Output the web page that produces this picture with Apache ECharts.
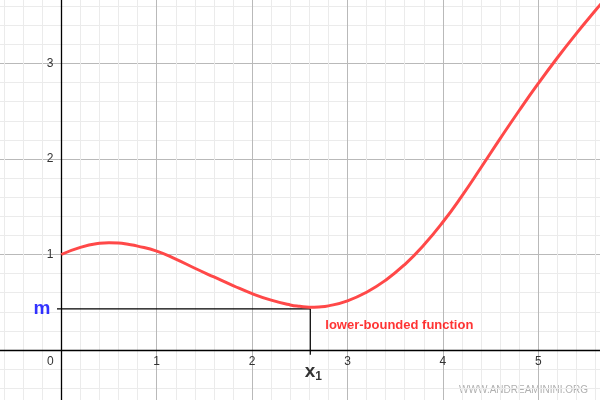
<!DOCTYPE html>
<html>
<head>
<meta charset="utf-8">
<script src="https://cdn.jsdelivr.net/npm/echarts@6/dist/echarts.min.js"></script>
<style>
  html, body { margin: 0; padding: 0; background: #fff; }
  #chart { width: 600px; height: 400px; }
</style>
</head>
<body>
<div id="chart"></div>
<script>
// ---- data ----
const curveX = [0, 0.2, 0.4, 0.5, 0.6, 0.7, 0.8, 1.0, 1.2, 1.4, 1.6, 1.8, 2.0, 2.2, 2.4, 2.5, 2.6, 2.7, 2.8, 3.0, 3.2, 3.4, 3.6, 3.8, 4.0, 4.2, 4.4, 4.6, 4.8, 5.0, 5.2, 5.4, 5.6, 5.7];
const curveY = [1.0, 1.075, 1.117, 1.124, 1.121, 1.107, 1.088, 1.035, 0.952, 0.856, 0.765, 0.675, 0.59, 0.522, 0.472, 0.457, 0.448, 0.451, 0.462, 0.515, 0.605, 0.731, 0.895, 1.099, 1.34, 1.614, 1.911, 2.213, 2.508, 2.791, 3.06, 3.315, 3.557, 3.673];
const xTicks = [1, 2, 3, 4, 5];
const yTicks = [1, 2, 3];
const mValue = 0.43;      // lower bound m
const x1Value = 2.61;     // point where minimum is reached
const labelM = 'm';
const labelX1 = 'x';
const labelX1Sub = '1';
const curveLabel = 'lower-bounded function';
const watermark = 'WWW.ANDREAMININI.ORG';

const FONT = '"Liberation Sans", Arial, sans-serif';
const curveData = curveX.map((x, i) => [x, curveY[i]]);

// plot geometry (pixels per unit and grid placement)
const W = 600, H = 400;
const gridLeft = -34.1, gridRight = -33.7, gridTop = -32, gridBottom = -45.5;
const xMin = -1, xMax = 6, yMin = -1, yMax = 4;
const pxPerX = (W - gridLeft - gridRight) / (xMax - xMin);
const pxPerY = (H - gridTop - gridBottom) / (yMax - yMin);
const xAxisOffset = -(0 - yMin) * pxPerY;  // move x axis up to y = 0
const yAxisOffset = -(0 - xMin) * pxPerX;  // move y axis right to x = 0

const chart = echarts.init(document.getElementById('chart'), null, { renderer: 'canvas' });

const axisCommon = {
  type: 'value',
  interval: 1,
  axisLine: { show: true, onZero: false, lineStyle: { color: '#000', width: 1.3 } },
  axisTick: { show: false },
  splitLine: { show: true, lineStyle: { color: '#b9b9b9', width: 1 } },
  minorTick: { show: false, splitNumber: 5 },
  minorSplitLine: { show: true, lineStyle: { color: '#ebebeb', width: 1 } }
};

chart.setOption({
  animation: false,
  backgroundColor: '#ffffff',
  grid: { left: gridLeft, right: gridRight, top: gridTop, bottom: gridBottom, containLabel: false, outerBoundsMode: 'none' },
  xAxis: Object.assign({}, axisCommon, {
    min: xMin, max: xMax, position: 'bottom', offset: xAxisOffset,
    axisLabel: {
      color: '#333', fontSize: 12, fontFamily: FONT, margin: 6,
      formatter: v => (v === 0 ? '{z|0}' : (xTicks.indexOf(v) >= 0 ? String(v) : '')),
      rich: { z: { color: '#333', fontSize: 12, fontFamily: FONT, padding: [0, 22, 0, 0] } }
    }
  }),
  yAxis: Object.assign({}, axisCommon, {
    min: yMin, max: yMax, position: 'left', offset: yAxisOffset,
    axisLabel: {
      color: '#333', fontSize: 12, fontFamily: FONT, margin: 8,
      formatter: v => (yTicks.indexOf(v) >= 0 ? String(v) : '')
    }
  }),
  series: [
    {
      type: 'line',
      data: [[-0.045, mValue], [x1Value, mValue], [x1Value, -0.05]],
      showSymbol: false,
      lineStyle: { color: '#000', width: 1.2 },
      z: 3,
      silent: true
    },
    {
      type: 'line',
      data: curveData,
      smooth: 0.5,
      showSymbol: false,
      clip: true,
      lineStyle: { color: 'rgb(255,72,72)', width: 3 },
      z: 4,
      silent: true
    },
    {
      type: 'scatter',
      symbolSize: 0,
      silent: true,
      z: 5,
      data: [
        {
          value: [0, mValue],
          label: {
            show: true, position: 'left', distance: 11, formatter: labelM,
            color: '#0000ff', fontSize: 19, fontWeight: 'bold', fontFamily: FONT
          }
        },
        {
          value: [x1Value, 0],
          label: {
            show: true, position: 'bottom', distance: 11, offset: [3, 0],
            formatter: '{a|' + labelX1 + '}{b|' + labelX1Sub + '}',
            rich: {
              a: { fontSize: 19, fontWeight: 'bold', color: '#000', fontFamily: FONT },
              b: { fontSize: 12, fontWeight: 'bold', color: '#000', fontFamily: FONT, verticalAlign: 'bottom', padding: [10, 0, 0, 0] }
            }
          }
        },
        {
          value: [x1Value, mValue],
          label: {
            show: true, position: 'right', distance: 0, offset: [15, 16],
            formatter: curveLabel,
            color: '#ff0000', fontSize: 13, fontWeight: 'bold', fontFamily: FONT
          }
        }
      ]
    }
  ],
  graphic: [
    {
      type: 'text', right: 12, bottom: 5,
      style: { text: watermark, fill: '#b0b0b0', fontSize: 10, fontFamily: FONT, textAlign: 'right' }
    }
  ]
});
</script>
</body>
</html>
